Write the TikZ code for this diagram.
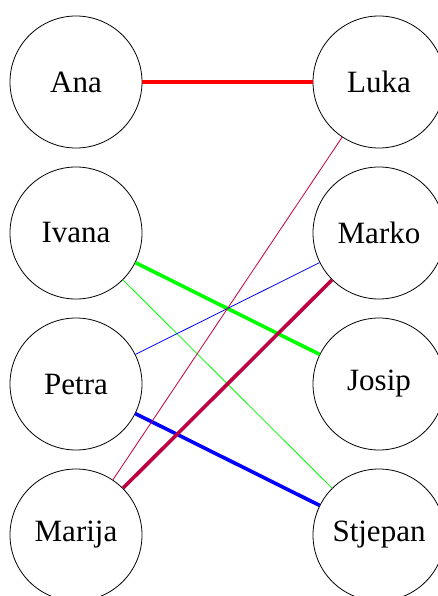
\documentclass[tikz,border=0pt]{standalone}
\usepackage{fontspec}
\setmainfont{Liberation Serif}
\tikzset{
  person/.style={draw,circle,line width=0.8pt,minimum size=132pt,inner sep=0pt,font=\fontsize{31}{36}\selectfont},
  strong/.style={line width=3.6pt},
  weak/.style={line width=0.8pt}
}
\begin{document}
\begin{tikzpicture}[x=1pt,y=1pt,yscale=-1,xscale=1]
  \useasboundingbox (0,0) rectangle (437,596);

  % Left column
  \node [person] (ana) at (76,82) {Ana};
  \node [person] (ivana) at (76,233) {Ivana};
  \node [person] (petra) at (76,384) {Petra};
  \node [person] (marija) at (76,535) {Marija};
  % Right column
  \node [person] (luka) at (379,82) {Luka};
  \node [person] (marko) at (379,233) {Marko};
  \node [person] (josip) at (379,384) {Josip};
  \node [person] (stjepan) at (379,535) {Stjepan};

  % Edges
  \draw [strong,red] (ana) -- (luka);
  \draw [strong,green] (ivana) -- (josip);
  \draw [weak,green] (ivana) -- (stjepan);
  \draw [weak,blue] (petra) -- (marko);
  \draw [strong,blue] (petra) -- (stjepan);
  \draw [weak,purple] (marija) -- (luka);
  \draw [strong,purple] (marija) -- (marko);
\end{tikzpicture}
\end{document}
